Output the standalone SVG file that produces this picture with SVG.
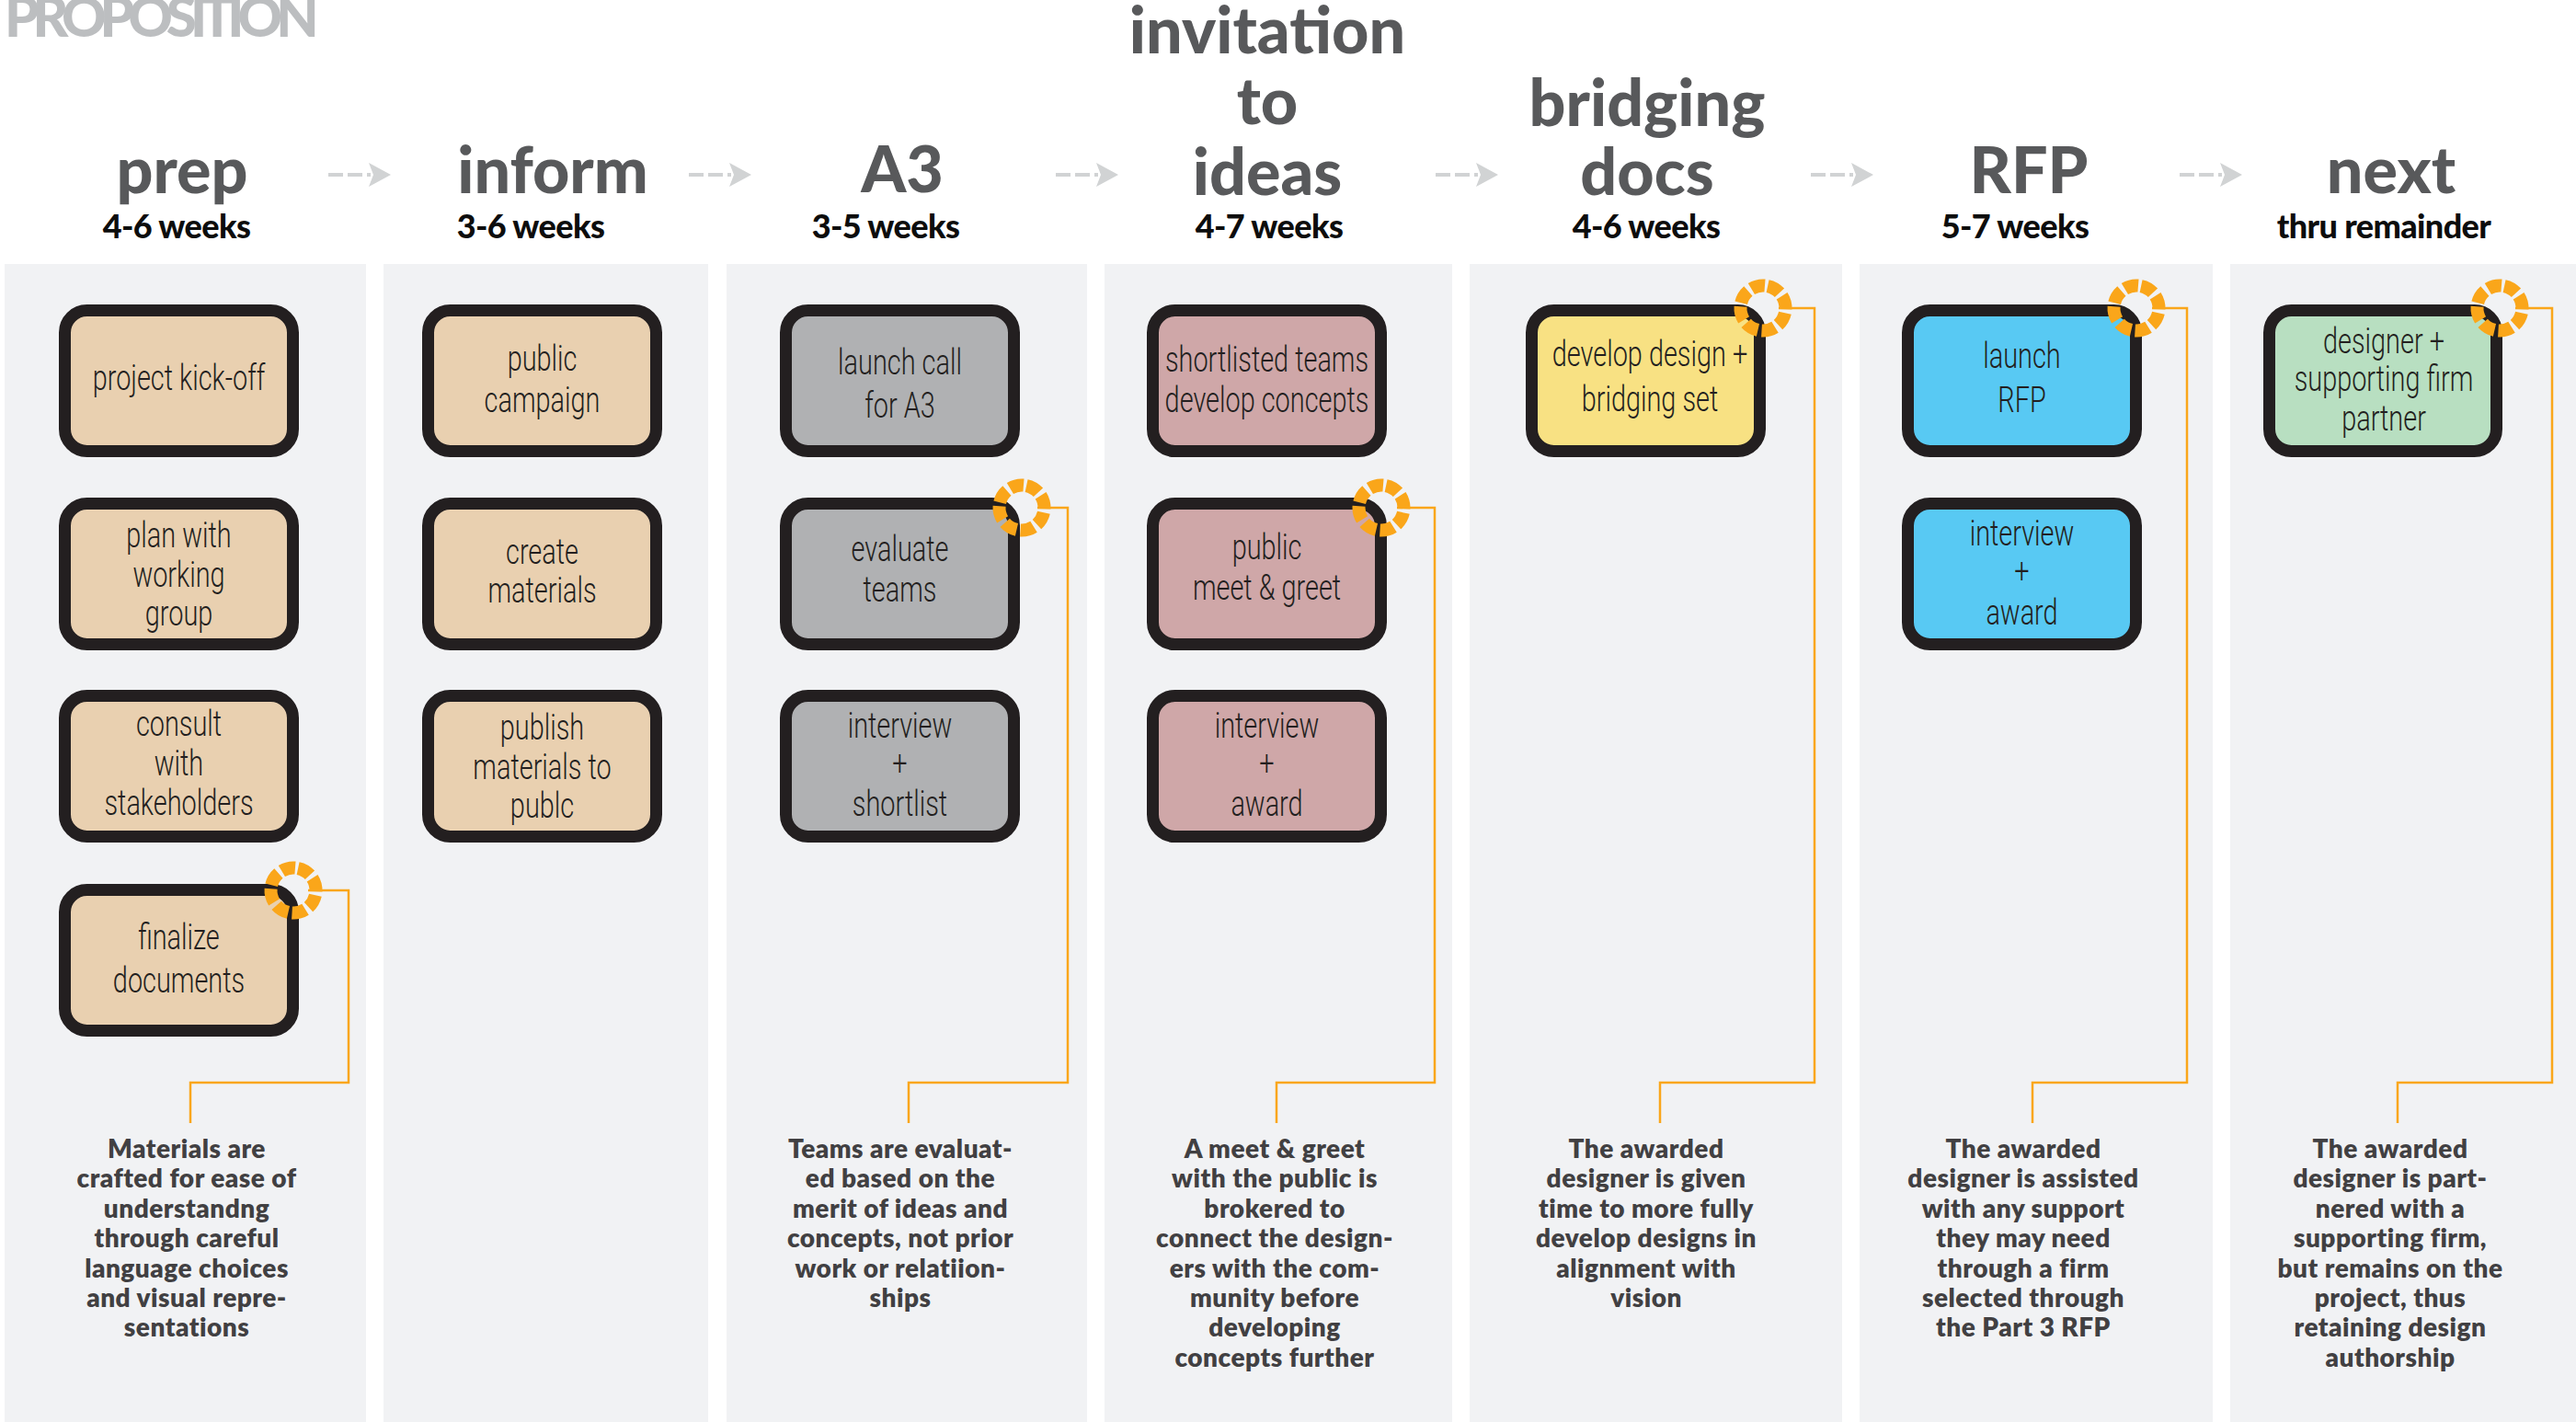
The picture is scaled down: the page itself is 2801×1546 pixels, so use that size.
<svg xmlns="http://www.w3.org/2000/svg" width="2801" height="1546" viewBox="0 0 2801 1546">
  <style>
    .panel { fill: #f1f2f4; }
    .title { font-family: Lato, "Liberation Sans", sans-serif; font-weight: 900; font-size: 70px; fill: #58595b; text-anchor: middle; }
    .dur { font-family: Lato, "Liberation Sans", sans-serif; font-weight: 900; font-size: 36px; fill: #0d0d0d; text-anchor: middle; letter-spacing: -0.6px; }
    .box { stroke: #231f20; stroke-width: 13; }
    .tan { fill: #e9d0b0; }
    .grey { fill: #b0b1b3; }
    .rose { fill: #cfa7a8; }
    .sun { fill: #f8e183; }
    .sky { fill: #58c9f3; }
    .mint { fill: #b8dfc1; }
    .nt { font-family: Roboto, "Liberation Sans", sans-serif; font-weight: 300; font-size: 38px; fill: #231f20; text-anchor: middle; }
    .ring { fill: none; stroke: #faa61a; stroke-width: 14; stroke-dasharray: 15 4.24; }
    .lead { fill: none; stroke: #faa61a; stroke-width: 2.5; }
    .desc { font-family: Lato, "Liberation Sans", sans-serif; font-weight: 800; font-size: 28px; fill: #414042; text-anchor: middle; letter-spacing: 0.5px; }
    .flow { stroke: #d1d3d4; stroke-width: 4; stroke-dasharray: 16 5; }
  </style>
  <defs>
    <g id="step-arrow">
      <line class="flow" x1="0" y1="0" x2="46" y2="0"/>
      <polygon points="44,-13 68,0 44,13 49,0" fill="#d1d3d4"/>
    </g>
  </defs>

  <rect width="2801" height="1546" fill="#ffffff"/>

  <!-- column backgrounds -->
  <g id="panels">
    <rect class="panel" x="5" y="287" width="393" height="1259"/>
    <rect class="panel" x="417" y="287" width="353" height="1259"/>
    <rect class="panel" x="790" y="287" width="392" height="1259"/>
    <rect class="panel" x="1201" y="287" width="378" height="1259"/>
    <rect class="panel" x="1598" y="287" width="405" height="1259"/>
    <rect class="panel" x="2022" y="287" width="384" height="1259"/>
    <rect class="panel" x="2425" y="287" width="376" height="1259"/>
  </g>

  <text id="page-title" x="5" y="40" font-family="Lato, 'Liberation Sans', sans-serif" font-weight="900" font-size="60" fill="#bcbec0" letter-spacing="-7">PROPOSITION</text>

  <!-- phase headings -->
  <g id="headings">
    <text class="title" x="198" y="210">prep</text>
    <text class="dur" x="192" y="259">4-6 weeks</text>
    <text class="title" x="601" y="210">inform</text>
    <text class="dur" x="577" y="259">3-6 weeks</text>
    <text class="title" x="981" y="209">A3</text>
    <text class="dur" x="963" y="259">3-5 weeks</text>
    <text class="title" x="1378" y="58">invitation</text>
    <text class="title" x="1378" y="135">to</text>
    <text class="title" x="1378" y="212">ideas</text>
    <text class="dur" x="1380" y="259">4-7 weeks</text>
    <text class="title" x="1791" y="137">bridging</text>
    <text class="title" x="1791" y="212">docs</text>
    <text class="dur" x="1790" y="259">4-6 weeks</text>
    <text class="title" x="2206" y="210">RFP</text>
    <text class="dur" x="2191" y="259">5-7 weeks</text>
    <text class="title" x="2600" y="210">next</text>
    <text class="dur" x="2592" y="259">thru remainder</text>
  </g>

  <!-- connectors: phase arrows and callout leaders -->
  <g id="connectors">
    <use href="#step-arrow" x="357" y="190"/>
    <use href="#step-arrow" x="749" y="190"/>
    <use href="#step-arrow" x="1148" y="190"/>
    <use href="#step-arrow" x="1561" y="190"/>
    <use href="#step-arrow" x="1969" y="190"/>
    <use href="#step-arrow" x="2370" y="190"/>
    <polyline class="lead" points="335,968 379,968 379,1177 207,1177 207,1221"/>
    <polyline class="lead" points="1128,552 1161,552 1161,1177 988,1177 988,1221"/>
    <polyline class="lead" points="1519,552 1560,552 1560,1177 1388,1177 1388,1221"/>
    <polyline class="lead" points="1934,335 1973,335 1973,1177 1805,1177 1805,1221"/>
    <polyline class="lead" points="2340,335 2378,335 2378,1177 2210,1177 2210,1221"/>
    <polyline class="lead" points="2735,335 2775,335 2775,1177 2607,1177 2607,1221"/>
  </g>

  <!-- prep -->
  <g id="node-project-kickoff">
    <rect class="box tan" x="70.5" y="337.5" width="248" height="153" rx="24"/>
    <text class="nt" transform="translate(194.5 0) scale(0.76 1)"><tspan x="0" y="424">project kick-off</tspan></text>
  </g>
  <g id="node-plan-working-group">
    <rect class="box tan" x="70.5" y="547.5" width="248" height="153" rx="24"/>
    <text class="nt" transform="translate(194.5 0) scale(0.76 1)"><tspan x="0" y="595">plan with</tspan><tspan x="0" y="638">working</tspan><tspan x="0" y="680">group</tspan></text>
  </g>
  <g id="node-consult-stakeholders">
    <rect class="box tan" x="70.5" y="756.5" width="248" height="153" rx="24"/>
    <text class="nt" transform="translate(194.5 0) scale(0.76 1)"><tspan x="0" y="800">consult</tspan><tspan x="0" y="843">with</tspan><tspan x="0" y="886">stakeholders</tspan></text>
  </g>
  <g id="node-finalize-documents">
    <rect class="box tan" x="70.5" y="967.5" width="248" height="153" rx="24"/>
    <text class="nt" transform="translate(194.5 0) scale(0.76 1)"><tspan x="0" y="1032">finalize</tspan><tspan x="0" y="1079">documents</tspan></text>
    <circle class="ring" cx="319" cy="968" r="24.5" transform="rotate(-78 319 968)"/>
  </g>
  <g id="note-prep">
    <text class="desc" letter-spacing="1.2"><tspan x="203" y="1259">Materials are</tspan><tspan x="203" y="1291.4">crafted for ease of</tspan><tspan x="203" y="1323.8">understandng</tspan><tspan x="203" y="1356.2">through careful</tspan><tspan x="203" y="1388.6">language choices</tspan><tspan x="203" y="1421">and visual repre-</tspan><tspan x="203" y="1453.4">sentations</tspan></text>
  </g>

  <!-- inform -->
  <g id="node-public-campaign">
    <rect class="box tan" x="465.5" y="337.5" width="248" height="153" rx="24"/>
    <text class="nt" transform="translate(589.5 0) scale(0.76 1)"><tspan x="0" y="403">public</tspan><tspan x="0" y="448">campaign</tspan></text>
  </g>
  <g id="node-create-materials">
    <rect class="box tan" x="465.5" y="547.5" width="248" height="153" rx="24"/>
    <text class="nt" transform="translate(589.5 0) scale(0.76 1)"><tspan x="0" y="613">create</tspan><tspan x="0" y="655">materials</tspan></text>
  </g>
  <g id="node-publish-materials">
    <rect class="box tan" x="465.5" y="756.5" width="248" height="153" rx="24"/>
    <text class="nt" transform="translate(589.5 0) scale(0.76 1)"><tspan x="0" y="804">publish</tspan><tspan x="0" y="847">materials to</tspan><tspan x="0" y="889">publc</tspan></text>
  </g>

  <!-- A3 -->
  <g id="node-launch-call">
    <rect class="box grey" x="854.5" y="337.5" width="248" height="153" rx="24"/>
    <text class="nt" transform="translate(978.5 0) scale(0.76 1)"><tspan x="0" y="407">launch call</tspan><tspan x="0" y="454">for A3</tspan></text>
  </g>
  <g id="node-evaluate-teams">
    <rect class="box grey" x="854.5" y="547.5" width="248" height="153" rx="24"/>
    <text class="nt" transform="translate(978.5 0) scale(0.76 1)"><tspan x="0" y="610">evaluate</tspan><tspan x="0" y="654">teams</tspan></text>
    <circle class="ring" cx="1111" cy="552" r="24.5" transform="rotate(-78 1111 552)"/>
  </g>
  <g id="node-interview-shortlist">
    <rect class="box grey" x="854.5" y="756.5" width="248" height="153" rx="24"/>
    <text class="nt" transform="translate(978.5 0) scale(0.76 1)"><tspan x="0" y="802">interview</tspan><tspan x="0" y="843">+</tspan><tspan x="0" y="887">shortlist</tspan></text>
  </g>
  <g id="note-a3">
    <text class="desc"><tspan x="979" y="1259">Teams are evaluat-</tspan><tspan x="979" y="1291.4">ed based on the</tspan><tspan x="979" y="1323.8">merit of ideas and</tspan><tspan x="979" y="1356.2">concepts, not prior</tspan><tspan x="979" y="1388.6">work or relatiion-</tspan><tspan x="979" y="1421">ships</tspan></text>
  </g>

  <!-- invitation to ideas -->
  <g id="node-shortlisted-teams">
    <rect class="box rose" x="1253.5" y="337.5" width="248" height="153" rx="24"/>
    <text class="nt" font-size="34" transform="translate(1377.5 0) scale(0.76 1)"><tspan x="0" y="404">shortlisted teams</tspan><tspan x="0" y="448">develop concepts</tspan></text>
  </g>
  <g id="node-meet-greet">
    <rect class="box rose" x="1253.5" y="547.5" width="248" height="153" rx="24"/>
    <text class="nt" transform="translate(1377.5 0) scale(0.76 1)"><tspan x="0" y="608">public</tspan><tspan x="0" y="652">meet &amp; greet</tspan></text>
    <circle class="ring" cx="1502" cy="552" r="24.5" transform="rotate(-78 1502 552)"/>
  </g>
  <g id="node-interview-award-a">
    <rect class="box rose" x="1253.5" y="756.5" width="248" height="153" rx="24"/>
    <text class="nt" transform="translate(1377.5 0) scale(0.76 1)"><tspan x="0" y="802">interview</tspan><tspan x="0" y="843">+</tspan><tspan x="0" y="887">award</tspan></text>
  </g>
  <g id="note-ideas">
    <text class="desc"><tspan x="1386" y="1259">A meet &amp; greet</tspan><tspan x="1386" y="1291.4">with the public is</tspan><tspan x="1386" y="1323.8">brokered to</tspan><tspan x="1386" y="1356.2">connect the design-</tspan><tspan x="1386" y="1388.6">ers with the com-</tspan><tspan x="1386" y="1421">munity before</tspan><tspan x="1386" y="1453.4">developing</tspan><tspan x="1386" y="1485.8">concepts further</tspan></text>
  </g>

  <!-- bridging docs -->
  <g id="node-develop-design">
    <rect class="box sun" x="1665.5" y="337.5" width="248" height="153" rx="24"/>
    <text class="nt" transform="translate(1794 0) scale(0.76 1)"><tspan x="0" y="398">develop design +</tspan><tspan x="0" y="447">bridging set</tspan></text>
    <circle class="ring" cx="1917" cy="335" r="24.5" transform="rotate(-78 1917 335)"/>
  </g>
  <g id="note-bridging">
    <text class="desc"><tspan x="1790" y="1259">The awarded</tspan><tspan x="1790" y="1291.4">designer is given</tspan><tspan x="1790" y="1323.8">time to more fully</tspan><tspan x="1790" y="1356.2">develop designs in</tspan><tspan x="1790" y="1388.6">alignment with</tspan><tspan x="1790" y="1421">vision</tspan></text>
  </g>

  <!-- RFP -->
  <g id="node-launch-rfp">
    <rect class="box sky" x="2074.5" y="337.5" width="248" height="153" rx="24"/>
    <text class="nt" transform="translate(2198.5 0) scale(0.76 1)"><tspan x="0" y="400">launch</tspan><tspan x="0" y="448">RFP</tspan></text>
    <circle class="ring" cx="2323" cy="335" r="24.5" transform="rotate(-78 2323 335)"/>
  </g>
  <g id="node-interview-award-b">
    <rect class="box sky" x="2074.5" y="547.5" width="248" height="153" rx="24"/>
    <text class="nt" transform="translate(2198.5 0) scale(0.76 1)"><tspan x="0" y="593">interview</tspan><tspan x="0" y="634">+</tspan><tspan x="0" y="679">award</tspan></text>
  </g>
  <g id="note-rfp">
    <text class="desc"><tspan x="2200" y="1259">The awarded</tspan><tspan x="2200" y="1291.4">designer is assisted</tspan><tspan x="2200" y="1323.8">with any support</tspan><tspan x="2200" y="1356.2">they may need</tspan><tspan x="2200" y="1388.6">through a firm</tspan><tspan x="2200" y="1421">selected through</tspan><tspan x="2200" y="1453.4">the Part 3 RFP</tspan></text>
  </g>

  <!-- next -->
  <g id="node-designer-partner">
    <rect class="box mint" x="2467.5" y="337.5" width="247" height="153" rx="24"/>
    <text class="nt" transform="translate(2592 0) scale(0.76 1)"><tspan x="0" y="384">designer +</tspan><tspan x="0" y="425">supporting firm</tspan><tspan x="0" y="468">partner</tspan></text>
    <circle class="ring" cx="2718" cy="335" r="24.5" transform="rotate(-78 2718 335)"/>
  </g>
  <g id="note-next">
    <text class="desc"><tspan x="2599" y="1259">The awarded</tspan><tspan x="2599" y="1291.4">designer is part-</tspan><tspan x="2599" y="1323.8">nered with a</tspan><tspan x="2599" y="1356.2">supporting firm,</tspan><tspan x="2599" y="1388.6">but remains on the</tspan><tspan x="2599" y="1421">project, thus</tspan><tspan x="2599" y="1453.4">retaining design</tspan><tspan x="2599" y="1485.8">authorship</tspan></text>
  </g>
</svg>
